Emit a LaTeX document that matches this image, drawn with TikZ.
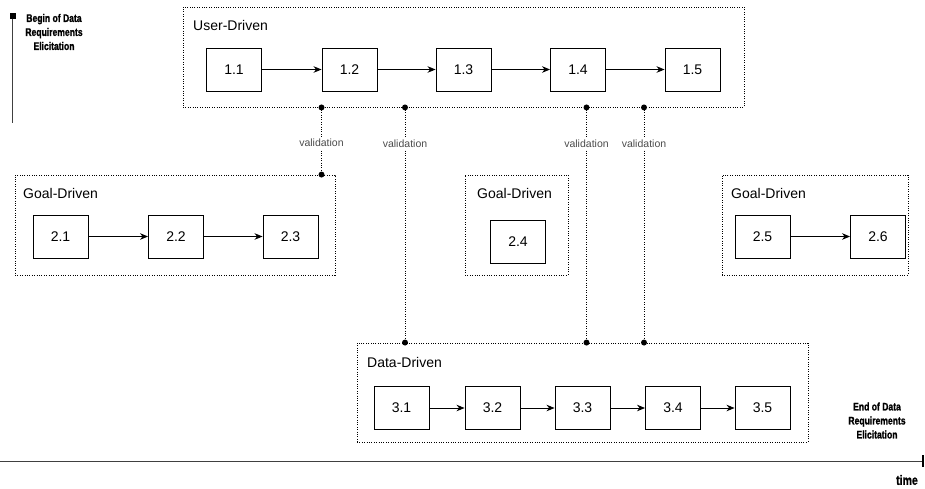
\documentclass[tikz,border=0pt]{standalone}
\usepackage{fontspec}
\setmainfont{Liberation Sans}
\newfontfamily\condb{Liberation Sans}[FakeStretch=0.78,FakeBold=1.2]
\usetikzlibrary{arrows.meta}
\begin{document}
\begin{tikzpicture}[x=1pt,y=-1pt,
  stepbox/.style={draw=black,line width=0.9pt,minimum width=55pt,minimum height=43pt,inner sep=0pt,font=\fontsize{14}{16}\selectfont},
  group/.style={draw=black,line width=0.9pt,dash pattern=on 1pt off 1.4pt,inner sep=0pt},
  glabel/.style={anchor=west,inner sep=0pt,font=\fontsize{14}{16}\selectfont},
  flow/.style={line width=0.9pt,-{Stealth[length=8pt,width=6.5pt,inset=2.5pt]}},
  valid/.style={line width=0.9pt,dash pattern=on 1pt off 1.4pt},
  vlabel/.style={fill=white,inner sep=2pt,text=black!70,font=\fontsize{10.5}{12}\selectfont},
  pin/.style={circle,fill=black,inner sep=0pt,minimum size=6pt},
  milestone/.style={align=center,inner sep=0pt,font=\condb\bfseries\fontsize{11}{14}\selectfont}
]
\useasboundingbox (0,0) rectangle (925,488);

% containers
\node[group,minimum width=561pt,minimum height=100pt] (ud) at (463.5,57) {};
\node[group,minimum width=320pt,minimum height=100pt] (gd1) at (175,225) {};
\node[group,minimum width=103pt,minimum height=100pt] (gd2) at (516.5,225) {};
\node[group,minimum width=186pt,minimum height=100pt] (gd3) at (815,225) {};
\node[group,minimum width=451pt,minimum height=99pt] (dd) at (582.5,392.5) {};

\node[glabel] (udl) at (193,25) {User-Driven};
\node[glabel] (gd1l) at (23,193) {Goal-Driven};
\node[glabel] (gd2l) at (477,193) {Goal-Driven};
\node[glabel] (gd3l) at (731,193) {Goal-Driven};
\node[glabel] (ddl) at (367,362) {Data-Driven};

% user-driven
\node[stepbox] (s11) at (234,69.5) {1.1};
\node[stepbox] (s12) at (349.5,69.5) {1.2};
\node[stepbox] (s13) at (463.5,69.5) {1.3};
\node[stepbox] (s14) at (578,69.5) {1.4};
\node[stepbox] (s15) at (692.5,69.5) {1.5};
\draw[flow] (s11) -- (s12);
\draw[flow] (s12) -- (s13);
\draw[flow] (s13) -- (s14);
\draw[flow] (s14) -- (s15);

% goal-driven
\node[stepbox] (s21) at (60.5,236.5) {2.1};
\node[stepbox] (s22) at (176,236.5) {2.2};
\node[stepbox] (s23) at (290.5,236.5) {2.3};
\draw[flow] (s21) -- (s22);
\draw[flow] (s22) -- (s23);
\node[stepbox] (s24) at (518,242) {2.4};
\node[stepbox] (s25) at (762.5,236.5) {2.5};
\node[stepbox] (s26) at (878,236.5) {2.6};
\draw[flow] (s25) -- (s26);

% data-driven
\node[stepbox] (s31) at (401.5,408) {3.1};
\node[stepbox] (s32) at (492.5,408) {3.2};
\node[stepbox] (s33) at (582.5,408) {3.3};
\node[stepbox] (s34) at (673,408) {3.4};
\node[stepbox] (s35) at (762.5,408) {3.5};
\draw[flow] (s31) -- (s32);
\draw[flow] (s32) -- (s33);
\draw[flow] (s33) -- (s34);
\draw[flow] (s34) -- (s35);

% validation links
\coordinate (va) at (321.5,0);
\coordinate (vb) at (405,0);
\coordinate (vc) at (586.5,0);
\coordinate (vd) at (644,0);
\draw[valid] (ud.south -| va) -- node[vlabel,pos=0.53]{validation} (gd1.north -| va);
\draw[valid] (ud.south -| vb) -- node[vlabel,pos=0.153]{validation} (dd.north -| vb);
\draw[valid] (ud.south -| vc) -- node[vlabel,pos=0.153]{validation} (dd.north -| vc);
\draw[valid] (ud.south -| vd) -- node[vlabel,pos=0.153]{validation} (dd.north -| vd);
\foreach \c in {va,vb,vc,vd} \node[pin] at (ud.south -| \c) {};
\node[pin] at (gd1.north -| va) {};
\foreach \c in {vb,vc,vd} \node[pin] at (dd.north -| \c) {};

% time axis
\draw[black!75,line width=0.9pt] (0,461) -- (923,461);
\draw[black,line width=1.2pt] (923,455) -- (923,467);
\draw[black!75,line width=0.9pt] (12.5,16) -- (12.5,123);
\fill[black] (9.5,13) rectangle (15.5,19);
\node[milestone] (begin) at (54,32) {Begin of Data\\Requirements\\Elicitation};
\node[milestone] (end) at (877,420.5) {End of Data\\Requirements\\Elicitation};
\node[inner sep=0pt,font=\condb\bfseries\fontsize{13.5}{15}\selectfont] (time) at (907,480) {time};
\end{tikzpicture}
\end{document}
